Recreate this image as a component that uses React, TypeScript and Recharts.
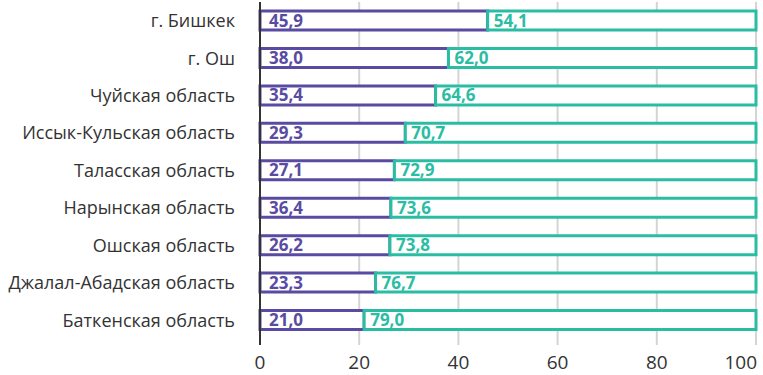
import { Bar, BarChart, CartesianGrid, LabelList, XAxis, YAxis } from 'recharts'

const regions = [
  'г. Бишкек',
  'г. Ош',
  'Чуйская область',
  'Иссык-Кульская область',
  'Таласская область',
  'Нарынская область',
  'Ошская область',
  'Джалал-Абадская область',
  'Баткенская область',
]

const shareA = [45.9, 38.0, 35.4, 29.3, 27.1, 26.4, 26.2, 23.3, 21.0]
const shareB = [54.1, 62.0, 64.6, 70.7, 72.9, 73.6, 73.8, 76.7, 79.0]

// подписи как на исходной картинке (в Нарынской подписано 36,4)
const labelsA = ['45,9', '38,0', '35,4', '29,3', '27,1', '36,4', '26,2', '23,3', '21,0']
const labelsB = ['54,1', '62,0', '64,6', '70,7', '72,9', '73,6', '73,8', '76,7', '79,0']

const xTicks = [0, 20, 40, 60, 80, 100]

const PURPLE = '#5a4ba2'
const TEAL = '#2bbda3'
const FONT = "'Open Sans', sans-serif"

// последняя подпись (100) прижата к правому краю, чтобы не обрезалась
function XTick(props: any) {
  const { x, y, payload } = props
  const last = payload.value === xTicks[xTicks.length - 1]
  return (
    <text
      x={last ? x + 6 : x}
      y={y}
      dy="0.71em"
      textAnchor={last ? 'end' : 'middle'}
      fill="#333"
      fontSize={19}
      fontFamily={FONT}
    >
      {payload.value}
    </text>
  )
}

export default function App() {
  const data = regions.map((name, i) => ({
    name,
    a: shareA[i],
    b: shareB[i],
    la: labelsA[i],
    lb: labelsB[i],
  }))

  return (
    <div style={{ position: 'absolute', left: 0, top: 0, background: '#fff' }}>
      <BarChart
        width={763}
        height={375}
        data={data}
        layout="vertical"
        margin={{ top: 2, right: 7, bottom: 0, left: 0 }}
        barCategoryGap={0}
      >
        <CartesianGrid horizontal={false} stroke="#d4d4d4" strokeWidth={2} />
        <XAxis
          type="number"
          domain={[0, 100]}
          ticks={xTicks}
          axisLine={false}
          tickLine={false}
          height={30}
          tickMargin={5}
          tick={<XTick />}
        />
        <YAxis
          type="category"
          dataKey="name"
          width={260}
          padding={{ top: 0, bottom: 6 }}
          axisLine={{ stroke: '#333', strokeWidth: 2 }}
          tickLine={false}
          tickMargin={19}
          tick={{ fill: '#333', fontSize: 18, fontFamily: FONT }}
        />
        <Bar
          dataKey="a"
          stackId="s"
          barSize={19}
          fill="#fff"
          stroke={PURPLE}
          strokeWidth={3}
          isAnimationActive={false}
        >
          <LabelList
            dataKey="la"
            position="insideLeft"
            offset={9}
            fill={PURPLE}
            fontSize={17}
            fontWeight={700}
            fontFamily={FONT}
          />
        </Bar>
        <Bar
          dataKey="b"
          stackId="s"
          barSize={19}
          fill="#fff"
          stroke={TEAL}
          strokeWidth={3}
          isAnimationActive={false}
        >
          <LabelList
            dataKey="lb"
            position="insideLeft"
            offset={6}
            fill={TEAL}
            fontSize={17}
            fontWeight={700}
            fontFamily={FONT}
          />
        </Bar>
      </BarChart>
    </div>
  )
}
